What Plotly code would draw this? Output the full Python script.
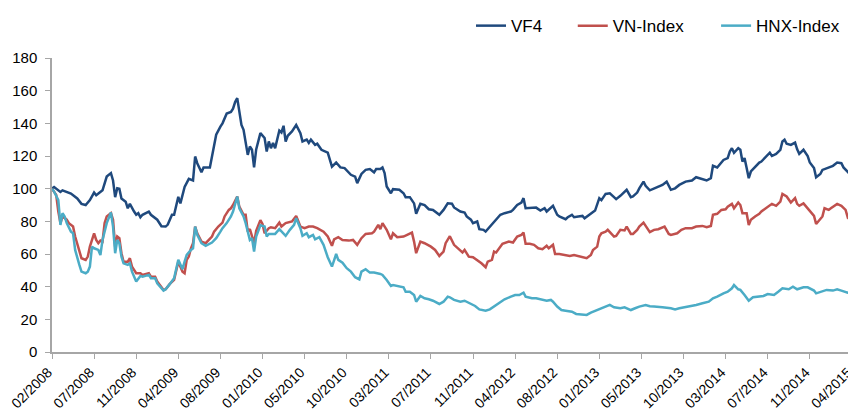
import plotly.graph_objects as go

# x tick labels, one every 20 weeks starting at week 0
tick_labels = ["02/2008", "07/2008", "11/2008", "04/2009", "08/2009", "01/2010", "05/2010",
               "10/2010", "03/2011", "07/2011", "11/2011", "04/2012", "08/2012", "01/2013",
               "05/2013", "10/2013", "03/2014", "07/2014", "11/2014", "04/2015"]

# VF4 (week index, value)
vf4_week = [0, 1, 4, 5, 9, 12, 14, 16, 18, 20, 21, 24, 26, 28, 29, 30, 31, 32, 33, 35, 36, 37, 39, 40,
            41, 42, 43, 46, 47, 50, 52, 54, 55, 57, 58, 60, 61, 63, 65, 67, 68, 69, 71, 72, 75, 77,
            78, 80, 81, 83, 85, 86, 87, 88, 89, 90, 91, 93, 94, 95, 96, 97, 99, 101, 102, 103, 104,
            105, 106, 108, 109, 110, 111, 112, 114, 116, 118, 119, 121, 122, 123, 125, 126, 128, 131,
            133, 135, 137, 139, 142, 144, 145, 147, 149, 151, 153, 154, 156, 157, 158, 159, 161, 162,
            165, 167, 168, 170, 172, 173, 175, 177, 179, 181, 184, 186, 188, 190, 191, 194, 196, 197,
            199, 200, 202, 203, 205, 206, 208, 210, 213, 215, 218, 219, 221, 223, 224, 225, 227, 230,
            232, 234, 235, 237, 238, 240, 241, 244, 245, 247, 248, 250, 252, 253, 256, 258, 260, 261,
            263, 265, 267, 268, 270, 271, 273, 275, 276, 278, 279, 281, 282, 284, 286, 288, 290, 292,
            294, 296, 298, 301, 304, 306, 309, 311, 313, 314, 316, 317, 319, 321, 322, 323, 324, 326,
            327, 328, 329, 330, 331, 332, 334, 336, 337, 339, 341, 342, 344, 346, 347, 348, 349, 351,
            353, 354, 355, 357, 359, 360, 362, 363, 365, 366, 368, 370, 371, 373, 375, 376, 378, 379, 380]
vf4_val = [100, 101, 98, 99, 97, 94, 90.7, 90, 93, 97.6, 96, 99, 107.4, 109.5, 105, 94.8, 100.3, 100,
           94, 92, 88, 90.7, 86, 84, 85, 82.5, 84, 86, 84, 81, 77, 76.8, 78, 84, 84, 95, 91, 101, 106,
           105, 119.7, 115.6, 110, 113, 113, 125.8, 133, 138, 140, 146, 147, 149, 153, 155.4, 148, 139,
           136, 120.7, 125.8, 123.8, 113, 124, 134, 131, 122.7, 128.9, 124.8, 128, 124.8, 135.6, 134.4,
           138.5, 128.9, 132.4, 135, 139, 134, 128.9, 130, 128, 130, 126.8, 127.5, 123.8, 122, 113.5,
           116, 113, 112.6, 108.5, 107.4, 103.4, 109, 111.5, 112, 110, 112, 112, 113, 109.5, 101.3,
           97.2, 99.7, 99.3, 97.2, 94.8, 94.8, 91, 84.6, 90.7, 90, 87.4, 87, 84, 87, 91, 90.8, 88.5,
           86, 85.4, 83, 81, 78.9, 79.9, 75.2, 74.8, 73.7, 76.8, 79.9, 84, 85, 86, 87, 90, 91.5, 94.2,
           88, 88, 88.4, 86.6, 88, 86, 88.7, 89.5, 84, 83, 81.3, 82.5, 84, 82.5, 83, 83.3, 81.9, 84.6,
           86.6, 94.2, 93, 96.8, 97.2, 94.8, 93.6, 95.6, 96.8, 99.3, 94.8, 95.2, 97.6, 100.2, 104.3,
           101.7, 99, 100.2, 101.3, 102.3, 104.3, 99.3, 100.2, 102.3, 104.3, 105, 107, 105.8, 105,
           106.4, 114, 113, 114.6, 117.6, 118.7, 122.7, 124.8, 122, 124.8, 123.8, 116.6, 118.7, 112.6,
           106.4, 110.5, 113, 116, 116.6, 119.3, 122, 120, 121.3, 123.8, 128.9, 130, 127.5, 126.8,
           128.2, 124.1, 121.3, 123.8, 120, 116, 112.6, 107, 109, 111.5, 112.6, 113.5, 114, 116, 115.6,
           113, 110, 109, 112.6]

# VN-Index
vn_week = [0, 2, 3, 4, 5, 7, 8, 10, 11, 13, 14, 16, 17, 18, 20, 21, 22, 23, 24, 25, 26, 28, 29, 30,
           31, 32, 33, 34, 36, 37, 38, 40, 42, 43, 46, 47, 49, 50, 53, 54, 56, 58, 60, 62, 63, 64, 65,
           66, 67, 68, 69, 71, 73, 76, 77, 79, 81, 82, 84, 85, 86, 88, 89, 91, 92, 93, 94, 96, 97, 99,
           100, 101, 103, 104, 106, 108, 109, 111, 114, 116, 118, 120, 122, 124, 126, 129, 131, 133,
           134, 136, 138, 141, 143, 145, 147, 149, 152, 153, 155, 156, 157, 159, 161, 162, 164, 167,
           169, 171, 172, 173, 175, 177, 180, 182, 184, 186, 187, 189, 191, 193, 195, 196, 198, 200,
           202, 204, 206, 207, 209, 210, 211, 213, 214, 217, 219, 221, 223, 224, 225, 227, 229, 231,
           233, 235, 236, 238, 239, 241, 244, 246, 248, 250, 252, 254, 256, 257, 259, 260, 261, 263,
           264, 267, 268, 270, 272, 273, 275, 276, 278, 279, 281, 283, 284, 286, 288, 291, 293, 294,
           297, 299, 301, 304, 306, 309, 311, 313, 314, 316, 318, 320, 321, 323, 324, 326, 327, 328,
           330, 331, 332, 334, 336, 337, 339, 340, 342, 344, 346, 347, 349, 351, 353, 354, 355, 357,
           359, 360, 362, 363, 365, 366, 367, 369, 370, 372, 373, 375, 377, 378, 380]
vn_val = [100, 96.2, 86, 78.9, 83, 81, 78.9, 76.8, 70.7, 62.5, 57.4, 56.4, 58.4, 64.5, 72.7, 68.6,
          66.6, 68.2, 67.6, 78.9, 83, 85, 81, 64.5, 70.7, 69.7, 60.5, 55.3, 55.3, 57.4, 52.3, 48.2,
          48.2, 47.2, 48.2, 46.1, 46.1, 43.1, 38, 38.4, 41.7, 44.1, 55.3, 49.2, 48.2, 56.4, 58.4, 63.5,
          66.6, 76.8, 72.7, 67.6, 66.6, 70.7, 73.7, 76.8, 79.2, 83, 87, 88, 90, 95.2, 89, 84, 84, 73.7,
          75.3, 66.6, 74.2, 80.7, 78.4, 72.7, 75.8, 76.4, 75.8, 79.2, 76.8, 78.9, 79.9, 83.3, 76.8,
          75.8, 76.8, 76.8, 75.8, 73.7, 70.7, 65, 69, 70.3, 68.6, 68.2, 68.6, 65.6, 69.7, 72.3, 72.7,
          73.7, 77.8, 75.2, 78.9, 74.8, 69, 72.7, 70.3, 70.7, 71.7, 73.1, 67.6, 60.5, 67.6, 66.6, 64.5,
          62.5, 58.8, 61.5, 66.6, 70.9, 65.6, 63.5, 60.9, 62.5, 58.4, 58, 56.4, 54.3, 51.9, 55.3, 56.4,
          61.5, 60.9, 64.5, 66.2, 67.6, 67, 70.7, 71.7, 73.1, 66.2, 66.2, 65.6, 63.5, 62.9, 65, 63.5,
          65.6, 60, 60, 59.4, 58.8, 59.4, 58.8, 58.4, 57.4, 59.4, 62.5, 64.5, 70.7, 72.7, 73.7, 74.8,
          70.7, 71.1, 74.8, 74.4, 76.8, 72.3, 72.3, 74.8, 76.8, 79.2, 75.8, 73.4, 74.8, 75.2, 76.8,
          72.3, 71.7, 72.7, 74.8, 75.8, 75.8, 76.8, 77.2, 76.4, 77.2, 84, 84.6, 87, 87.4, 89, 90.7,
          88, 91.5, 90, 85, 85, 77.8, 80.9, 83, 84.6, 86, 88, 89, 90.7, 89.5, 92.1, 96.8, 95.2, 91.5,
          94.2, 90.7, 89.5, 91, 88, 86, 83.3, 78.4, 81.9, 83, 88, 87, 88, 89.5, 90.7, 89.5, 87, 82.5,
          85]

# HNX-Index
hnx_week = [0, 1, 3, 4, 5, 6, 7, 9, 10, 11, 13, 14, 16, 17, 18, 19, 20, 22, 23, 24, 26, 28, 29, 30,
            31, 32, 33, 34, 36, 37, 38, 40, 42, 43, 46, 47, 49, 50, 53, 54, 56, 58, 60, 62, 63, 64,
            66, 67, 68, 69, 71, 73, 76, 78, 80, 81, 83, 85, 86, 88, 89, 91, 92, 94, 95, 96, 97, 99,
            101, 102, 103, 104, 106, 108, 110, 111, 113, 115, 116, 118, 119, 121, 122, 124, 125, 127,
            129, 131, 133, 135, 136, 138, 140, 142, 144, 146, 147, 149, 151, 153, 156, 157, 159, 161,
            162, 164, 167, 168, 170, 172, 173, 175, 177, 179, 181, 184, 186, 188, 189, 191, 194, 196,
            199, 201, 203, 206, 208, 210, 213, 215, 218, 220, 222, 224, 225, 228, 230, 233, 235, 237,
            238, 240, 242, 244, 247, 249, 252, 254, 256, 259, 261, 263, 265, 267, 270, 272, 275, 277,
            279, 282, 284, 286, 288, 290, 294, 296, 298, 301, 304, 306, 309, 312, 314, 316, 319, 321,
            323, 324, 326, 327, 329, 331, 333, 335, 338, 340, 343, 345, 347, 350, 352, 354, 357, 359,
            362, 363, 366, 368, 371, 373, 375, 378, 380]
hnx_val = [100, 98.2, 93, 77.8, 85, 83, 78.9, 73.7, 72.7, 62.5, 53.3, 49.2, 48.2, 49.2, 52.3, 64.5,
           63.5, 62.5, 59.4, 68.6, 78.9, 85.4, 76.8, 60.5, 68.6, 66.6, 58.4, 54.3, 53.3, 54.3, 49.2,
           43.1, 46.6, 46.1, 47.2, 45.2, 45.2, 42.1, 37.6, 38.4, 41.7, 45.2, 56.4, 50.7, 55.3, 59.4,
           62.5, 63.5, 76.8, 71.7, 66.6, 65, 67, 69.7, 73.7, 75.8, 78.9, 83, 86, 95.2, 88, 83, 78.9,
           68.6, 69.7, 61.5, 70.7, 77.6, 76.8, 70.7, 72.3, 72.3, 72.3, 75.2, 72.3, 71.1, 74.8, 77.8,
           81.9, 75.8, 71.1, 72.7, 70.3, 71.7, 69, 70.3, 65.6, 58, 52.3, 60, 56.4, 54.7, 51.3, 49.2,
           45.8, 44.5, 49.2, 50.7, 48.6, 48.6, 47.8, 47.2, 44.1, 40.4, 41, 40.4, 39.6, 36.9, 36.9,
           34.9, 30.8, 34.3, 32.9, 32.3, 31.4, 29.4, 30.8, 33.9, 33.5, 31.9, 30.8, 31.4, 29.4, 28.2,
           26.1, 25.3, 26.1, 27.8, 30.2, 32.3, 33.9, 34.9, 34.9, 36.3, 33.9, 32.9, 32.9, 31.9, 31.4,
           31.9, 30.8, 27.8, 25.7, 25.3, 24.7, 23.3, 22.7, 22.7, 24.1, 25.7, 26.8, 27.8, 28.8, 27.4,
           26.8, 27.4, 25.7, 26.8, 27.8, 28.8, 28, 27.8, 27.4, 27.4, 26.8, 26.1, 26.8, 27.4, 28.2,
           28.8, 29.8, 30.8, 32.9, 33.9, 35.9, 36.9, 39, 41, 38.4, 38, 34.9, 31.4, 33.5, 33.9, 34.3,
           35.5, 34.9, 36.9, 39, 38.4, 40, 38.4, 39.6, 39.6, 37.6, 35.9, 36.9, 38, 37.6, 38.4, 37.6,
           36.3, 36.9]

FONT = "Liberation Sans Narrow, Arial Narrow, Liberation Sans, Arial, sans-serif"

fig = go.Figure()
fig.add_trace(go.Scatter(x=vf4_week, y=vf4_val, name="VF4", mode="lines", showlegend=True,
                         line=dict(color="#1F497D", width=2.5), legend="legend"))
fig.add_trace(go.Scatter(x=vn_week, y=vn_val, name="VN-Index", mode="lines", showlegend=True,
                         line=dict(color="#C0504D", width=2.5), legend="legend2"))
fig.add_trace(go.Scatter(x=hnx_week, y=hnx_val, name="HNX-Index", mode="lines", showlegend=True,
                         line=dict(color="#4BACC6", width=2.5), legend="legend3"))

# one legend per entry so each can sit where the reference puts it
leg = dict(orientation="h", xref="container", yref="container", yanchor="middle", y=0.956,
           xanchor="left", font=dict(family=FONT, size=17, color="#000000"),
           bgcolor="rgba(0,0,0,0)")

# the page body has an 8px margin, so the figure is a bit smaller than the window
fig.update_layout(
    width=848, height=411,
    showlegend=True,
    margin=dict(l=44, r=2, t=50, b=67),
    plot_bgcolor="white", paper_bgcolor="white",
    font=dict(family=FONT, color="#000000"),
    legend=dict(leg, x=0.546),
    legend2=dict(leg, x=0.666),
    legend3=dict(leg, x=0.835),
    xaxis=dict(range=[0, 381], tickmode="array", automargin=False,
               tickvals=[i * 20 for i in range(len(tick_labels))], ticktext=tick_labels,
               tickangle=-45, ticks="outside", ticklen=5, tickcolor="#A6A6A6",
               ticklabeloverflow="allow", ticklabelshift=-4,
               showline=True, linecolor="#A6A6A6", linewidth=1.5, showgrid=False,
               zeroline=False, tickfont=dict(family=FONT, size=14, color="#000000")),
    yaxis=dict(range=[0, 180], dtick=20, ticks="outside", ticklen=5, tickcolor="#A6A6A6",
               showline=True, linecolor="#A6A6A6", linewidth=1.5, showgrid=False, automargin=False,
               ticklabelstandoff=5, zeroline=False,
               tickfont=dict(family=FONT, size=15, color="#000000")),
)

fig.write_html("out.html")
